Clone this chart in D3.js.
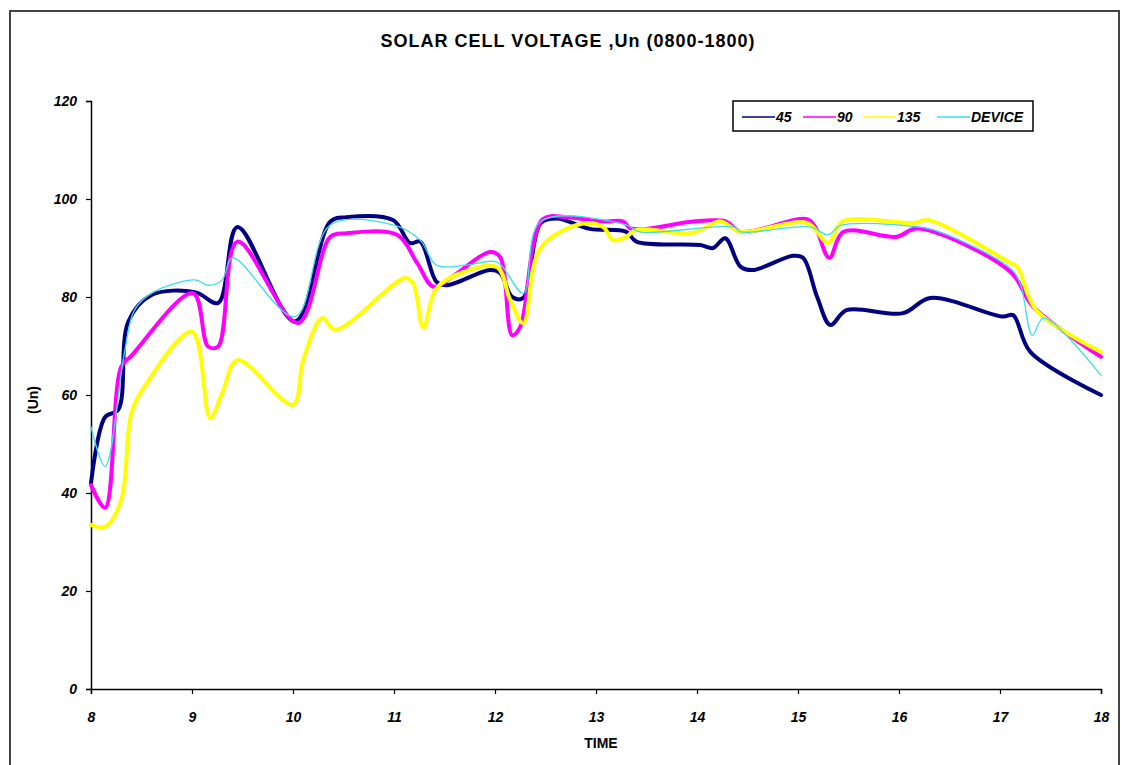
<!DOCTYPE html>
<html>
<head>
<meta charset="utf-8">
<script src="https://cdnjs.cloudflare.com/ajax/libs/d3/7.8.5/d3.min.js"></script>
<style>
  body { margin: 0; background: #fff; }
  text { font-family: "Liberation Sans", Arial, sans-serif; }
</style>
</head>
<body>
<div id="chart"></div>
<script>
// series: times (hours) and voltages
var t45 = [8, 8.14, 8.27, 8.37, 8.6, 9.03, 9.26, 9.45, 10.02, 10.37, 10.53, 10.99, 11.16, 11.26, 11.42, 11.52, 11.95, 12.05, 12.17, 12.28, 12.45, 12.61, 12.94, 13.3, 13.4, 14.03, 14.16, 14.28, 14.43, 14.55, 14.95, 15.05, 15.19, 15.32, 15.48, 16.04, 16.31, 17.03, 17.13, 17.3, 18];
var v45 = [42, 55.5, 57, 75, 80.4, 81, 78.8, 94.3, 75, 95.4, 96.3, 95.7, 91, 91.3, 83.1, 82.4, 85.5, 84.9, 80, 79.8, 95, 96, 93.9, 93.3, 91.3, 90.6, 90, 92, 86.2, 85.5, 88.4, 88, 80, 74.3, 77.3, 76.7, 79.8, 76, 76.3, 68.8, 60];

var t90 = [8, 8.14, 8.3, 8.4, 9.01, 9.16, 9.26, 9.45, 10.05, 10.37, 10.53, 11.03, 11.23, 11.39, 11.58, 11.95, 12.05, 12.17, 12.25, 12.47, 12.71, 13.04, 13.27, 13.34, 13.5, 13.96, 14.29, 14.43, 15.09, 15.17, 15.31, 15.45, 15.98, 16.18, 17.1, 17.33, 18];
var v90 = [41.6, 37, 65.8, 68, 80.8, 69.9, 69.9, 91.3, 74.7, 92.3, 93, 92.7, 86.9, 82.1, 84.2, 89.2, 88.2, 72.2, 73.9, 95.8, 96.3, 95.4, 95.4, 94, 93.9, 95.4, 95.4, 93.3, 95.9, 94.3, 88, 93.3, 92.3, 94, 85.2, 78, 67.8];

var t135 = [8, 8.14, 8.3, 8.4, 8.53, 9.0, 9.18, 9.3, 9.45, 10.0, 10.1, 10.29, 10.42, 11.11, 11.19, 11.29, 11.42, 11.69, 12.02, 12.15, 12.28, 12.45, 12.87, 13.07, 13.17, 13.3, 13.4, 13.96, 14.23, 14.43, 15.09, 15.3, 15.44, 16.14, 16.29, 17.1, 17.17, 17.36, 18];
var v135 = [33.5, 33.1, 38.6, 56.3, 61.7, 72.9, 55.3, 60.4, 67.1, 58, 67, 75.7, 73.3, 83.9, 82.8, 73.7, 81.8, 85.1, 86.1, 79.4, 74.7, 90, 95, 94.3, 91.6, 92.3, 93.7, 93.1, 95.4, 93.3, 95.1, 91, 95.4, 95.1, 95.7, 87, 86.2, 77.3, 68.8];

var tDev = [8, 8.14, 8.33, 8.43, 8.6, 9.03, 9.16, 9.3, 9.4, 10.02, 10.37, 10.99, 11.26, 11.42, 11.72, 12.02, 12.28, 12.45, 13.3, 13.43, 14.36, 14.43, 15.12, 15.3, 15.42, 16.18, 16.4, 17.1, 17.2, 17.32, 17.43, 18];
var vDev = [53.5, 45.4, 68.5, 77.3, 80.8, 83.5, 82.4, 83.5, 88, 76, 94.7, 94.7, 91.6, 86.5, 86.5, 87.1, 80.8, 95.4, 94.7, 93.3, 94.3, 93.3, 94.3, 92.7, 94.6, 94.3, 93.3, 85.9, 82.8, 72.2, 75.7, 64];

var seriesNames = ["45", "90", "135", "DEVICE"];
var seriesColors = ["#000080", "#ff00ff", "#ffff00", "#40dde6"];
var seriesWidths = [4, 4, 4, 1.3];
var xTicks = [8, 9, 10, 11, 12, 13, 14, 15, 16, 17, 18];
var yTicks = [0, 20, 40, 60, 80, 100, 120];

var series = [
  { name: seriesNames[0], t: t45, v: v45 },
  { name: seriesNames[1], t: t90, v: v90 },
  { name: seriesNames[2], t: t135, v: v135 },
  { name: seriesNames[3], t: tDev, v: vDev }
];

var W = 1121, H = 765;
var svg = d3.select("#chart").append("svg")
  .attr("width", W)
  .attr("height", H);

svg.append("rect").attr("width", W).attr("height", H).attr("fill", "#fff");
// outer chart frame
svg.append("rect")
  .attr("x", 10).attr("y", 11)
  .attr("width", 1109).attr("height", 770)
  .attr("fill", "#fff")
  .attr("stroke", "#444").attr("stroke-width", 2);

var x = d3.scaleLinear().domain([8, 18]).range([91, 1101]);
var y = d3.scaleLinear().domain([0, 120]).range([689, 101]);

svg.append("text")
  .attr("x", 568).attr("y", 47)
  .attr("text-anchor", "middle")
  .attr("font-size", 18).attr("font-weight", "bold")
  .attr("letter-spacing", 1)
  .text("SOLAR CELL VOLTAGE ,Un (0800-1800)");

var yAxis = svg.append("g")
  .attr("transform", "translate(91,0)")
  .call(d3.axisLeft(y).tickValues(yTicks).tickSize(5).tickPadding(9));
var xAxis = svg.append("g")
  .attr("transform", "translate(0,689)")
  .call(d3.axisBottom(x).tickValues(xTicks).tickSize(5).tickPadding(18));

[xAxis, yAxis].forEach(function (g) {
  g.select(".domain").attr("stroke", "#000").attr("stroke-width", 1.5);
  g.selectAll(".tick line").attr("stroke", "#000").attr("stroke-width", 1.2);
  g.selectAll(".tick text")
    .attr("font-family", "'Liberation Sans', Arial, sans-serif")
    .attr("font-size", 14).attr("font-weight", "bold").attr("font-style", "italic")
    .attr("fill", "#000");
});

svg.append("text")
  .attr("x", 601).attr("y", 748)
  .attr("text-anchor", "middle")
  .attr("font-size", 14).attr("font-weight", "bold")
  .text("TIME");

svg.append("text")
  .attr("transform", "translate(38,400) rotate(-90)")
  .attr("text-anchor", "middle")
  .attr("font-size", 14).attr("font-weight", "bold")
  .text("(Un)");

var line = d3.line()
  .x(function (d) { return x(d[0]); })
  .y(function (d) { return y(d[1]); })
  .curve(d3.curveCatmullRom.alpha(0.5));

svg.append("g").selectAll("path")
  .data(series)
  .enter()
  .append("path")
  .attr("d", function (s) { return line(d3.zip(s.t, s.v)); })
  .attr("fill", "none")
  .attr("stroke", function (s, i) { return seriesColors[i]; })
  .attr("stroke-width", function (s, i) { return seriesWidths[i]; })
  .attr("stroke-linejoin", "round")
  .attr("stroke-linecap", "round");

// legend
var legend = svg.append("g");
legend.append("rect")
  .attr("x", 733).attr("y", 101)
  .attr("width", 300).attr("height", 30)
  .attr("fill", "#fff").attr("stroke", "#000").attr("stroke-width", 1.5);

var legendX = [742, 803, 863, 937];
seriesNames.forEach(function (n, i) {
  legend.append("line")
    .attr("x1", legendX[i]).attr("x2", legendX[i] + 33)
    .attr("y1", 117).attr("y2", 117)
    .attr("stroke", seriesColors[i]).attr("stroke-width", 1.5);
  legend.append("text")
    .attr("x", legendX[i] + 34).attr("y", 122)
    .attr("font-size", 14).attr("font-weight", "bold").attr("font-style", "italic")
    .text(n);
});
</script>
</body>
</html>
